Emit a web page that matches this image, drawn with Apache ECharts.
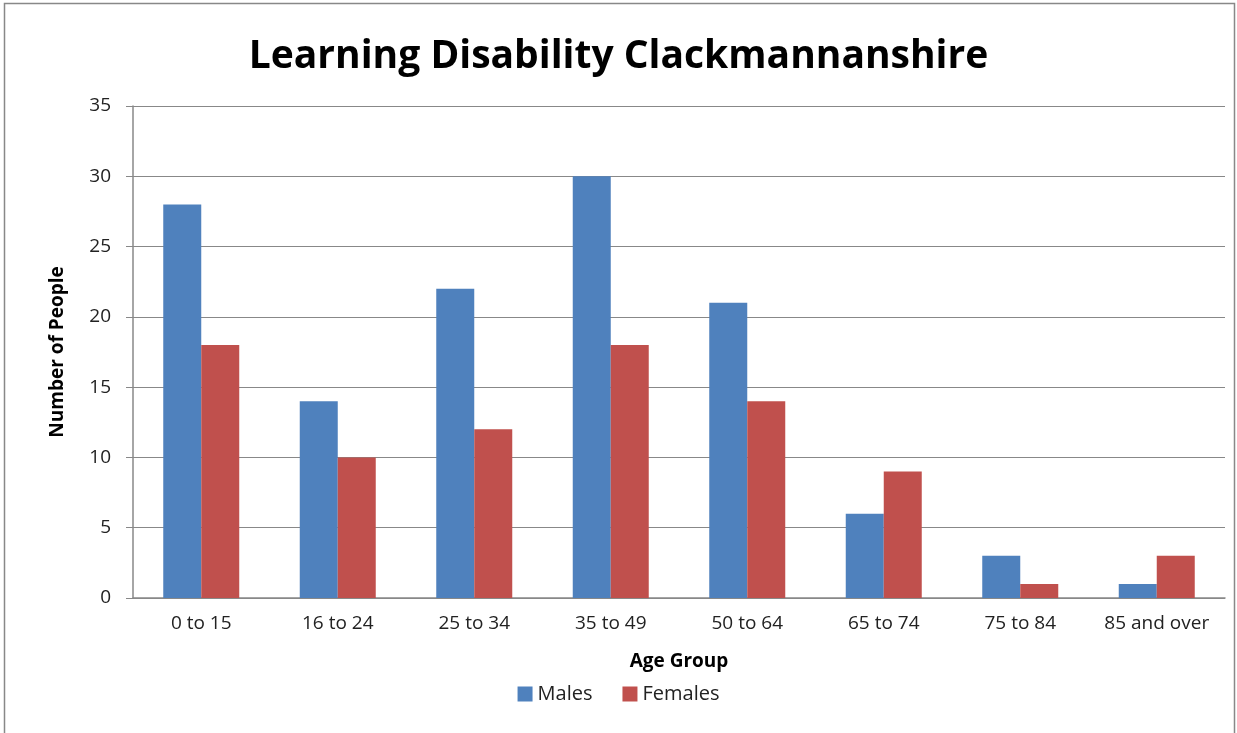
<!DOCTYPE html>
<html>
<head>
<meta charset="utf-8">
<script src="https://cdn.jsdelivr.net/npm/echarts@6/dist/echarts.min.js"></script>
<style>
  html, body { margin: 0; padding: 0; background: #fff; }
  #main { width: 1237px; height: 733px; }
</style>
</head>
<body>
<div id="main"></div>
<script>
// age groups and counts
const ageGroups = ['0 to 15', '16 to 24', '25 to 34', '35 to 49', '50 to 64', '65 to 74', '75 to 84', '85 and over'];
const males = [28, 14, 22, 30, 21, 6, 3, 1];
const females = [18, 10, 12, 18, 14, 9, 1, 3];
const yTicks = [0, 5, 10, 15, 20, 25, 30, 35];

const chart = echarts.init(document.getElementById('main'));
const font = '"Open Sans", "DejaVu Sans", sans-serif';

chart.setOption({
  animation: false,
  textStyle: { fontFamily: font },
  graphic: [{
    type: 'rect',
    shape: { x: 4.5, y: 3.5, width: 1230, height: 740 },
    style: { fill: 'none', stroke: '#888', lineWidth: 1.5 }
  }],
  title: {
    text: 'Learning Disability Clackmannanshire',
    left: 'center',
    top: 32,
    textStyle: { fontFamily: font, fontSize: 39, fontWeight: 'bold', color: '#000' }
  },
  legend: {
    bottom: 24,
    left: 'center',
    itemWidth: 15,
    itemHeight: 15,
    itemGap: 30,
    icon: 'rect',
    textStyle: { fontFamily: font, fontSize: 20, color: '#222' },
    data: ['Males', 'Females']
  },
  grid: { left: 133, right: 12, top: 106, bottom: 135 },
  xAxis: {
    type: 'category',
    data: ageGroups,
    name: 'Age Group',
    nameLocation: 'middle',
    nameGap: 54,
    nameTextStyle: { fontFamily: font, fontSize: 19, fontWeight: 'bold', color: '#000' },
    axisLine: { lineStyle: { color: '#888', width: 1.5 } },
    axisTick: { length: 6, lineStyle: { color: '#888' } },
    axisLabel: { fontSize: 19, color: '#222', margin: 16, interval: 0 }
  },
  yAxis: {
    type: 'value',
    min: yTicks[0],
    max: yTicks[yTicks.length - 1],
    interval: 5,
    name: 'Number of People',
    nameLocation: 'middle',
    nameGap: 66,
    nameTextStyle: { fontFamily: font, fontSize: 19, fontWeight: 'bold', color: '#000' },
    axisLine: { show: true, lineStyle: { color: '#888', width: 1.5 } },
    axisTick: { show: true, length: 7, lineStyle: { color: '#888' } },
    axisLabel: { fontSize: 19, color: '#222', margin: 22 },
    splitLine: { lineStyle: { color: '#888', width: 1.2 } }
  },
  series: [
    {
      name: 'Males',
      type: 'bar',
      data: males,
      barWidth: 38,
      barGap: '0%',
      itemStyle: { color: '#4F81BD' }
    },
    {
      name: 'Females',
      type: 'bar',
      data: females,
      barWidth: 38,
      itemStyle: { color: '#C0504D' }
    }
  ]
});
</script>
</body>
</html>
